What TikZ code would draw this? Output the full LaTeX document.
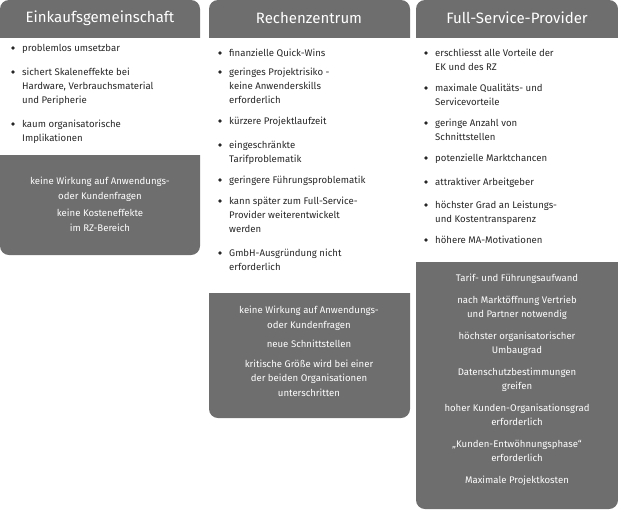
\documentclass[tikz,border=0pt]{standalone}
\usepackage{fontspec}
\setmainfont{Fira Sans}
\definecolor{hd}{HTML}{6E6E6E}
\tikzset{
 hdr/.style={fill=hd,rounded corners=9pt},
 itm/.style={anchor=north west,inner sep=0pt,align=left,font=\fontsize{9.6}{14}\selectfont,text=black!85},
 blt/.style={circle,fill=black!85,inner sep=0pt,minimum size=3.6pt},
 drk/.style={anchor=north,inner sep=0pt,align=center,font=\fontsize{9.6}{14.5}\selectfont,text=white},
 ttl/.style={text=white,font=\fontsize{15}{17}\selectfont}
}
\newcommand{\itmx}[4]{\node[blt] (#1b) at (#2pt-9pt,-#3pt) {}; \node[itm] (#1) at (#2pt,-#3pt+4pt) {#4};}
\begin{document}
\begin{tikzpicture}[x=1pt,y=1pt]
\useasboundingbox (0,0) rectangle (618,-509);
% headers
\begin{scope}
\clip (0,0) rectangle (618,-37);
\fill[hdr] (0,0) rectangle (200,-60);
\fill[hdr] (209,0) rectangle (410,-60);
\fill[hdr] (416,0) rectangle (618,-60);
\end{scope}
\node[ttl] (t1) at (100,-18) {Einkaufsgemeinschaft};
\node[ttl] (t2) at (309,-18) {Rechenzentrum};
\node[ttl] (t3) at (517,-18) {Full-Service-Provider};
% dark boxes
\begin{scope}
\clip (0,-155) rectangle (200,-255);
\fill[hdr] (0,-130) rectangle (200,-255);
\end{scope}
\begin{scope}
\clip (209,-293) rectangle (410,-418);
\fill[hdr] (209,-270) rectangle (410,-418);
\end{scope}
\begin{scope}
\clip (416,-262) rectangle (618,-509);
\fill[hdr] (416,-240) rectangle (618,-509);
\end{scope}
% col 1
\itmx{a1}{22}{48}{problemlos umsetzbar}
\itmx{a2}{22}{72}{sichert Skaleneffekte bei\\Hardware, Verbrauchsmaterial\\und Peripherie}
\itmx{a3}{22}{124}{kaum organisatorische\\Implikationen}
\node[drk] (d1) at (100,-177) {keine Wirkung auf Anwendungs-\\oder Kundenfragen\\[3pt]keine Kosteneffekte\\im RZ-Bereich};
% col 2
\itmx{b1}{229}{53}{finanzielle Quick-Wins}
\itmx{b2}{229}{72}{geringes Projektrisiko -\\keine Anwenderskills\\erforderlich}
\itmx{b3}{229}{121}{kürzere Projektlaufzeit}
\itmx{b4}{229}{145}{eingeschränkte\\Tarifproblematik}
\itmx{b5}{229}{180}{geringere Führungsproblematik}
\itmx{b6}{229}{201}{kann später zum Full-Service-\\Provider weiterentwickelt\\werden}
\itmx{b7}{229}{253}{GmbH-Ausgründung nicht\\erforderlich}
\node[drk] (d2) at (309,-306) {keine Wirkung auf Anwendungs-\\oder Kundenfragen\\[5pt]neue Schnittstellen\\[5pt]kritische Größe wird bei einer\\der beiden Organisationen\\unterschritten};
% col 3
\itmx{c1}{435}{53}{erschliesst alle Vorteile der\\EK und des RZ}
\itmx{c2}{435}{88}{maximale Qualitäts- und\\Servicevorteile}
\itmx{c3}{435}{123}{geringe Anzahl von\\Schnittstellen}
\itmx{c4}{435}{158}{potenzielle Marktchancen}
\itmx{c5}{435}{182}{attraktiver Arbeitgeber}
\itmx{c6}{435}{205}{höchster Grad an Leistungs-\\und Kostentransparenz}
\itmx{c7}{435}{240}{höhere MA-Motivationen}
\node[drk] (d3) at (517,-274) {Tarif- und Führungsaufwand\\[7pt]nach Marktöffnung Vertrieb\\und Partner notwendig\\[7pt]höchster organisatorischer\\Umbaugrad\\[7pt]Datenschutzbestimmungen\\greifen\\[7pt]hoher Kunden-Organisationsgrad\\erforderlich\\[7pt]„Kunden-Entwöhnungsphase“\\erforderlich\\[7pt]Maximale Projektkosten};
\end{tikzpicture}
\end{document}
